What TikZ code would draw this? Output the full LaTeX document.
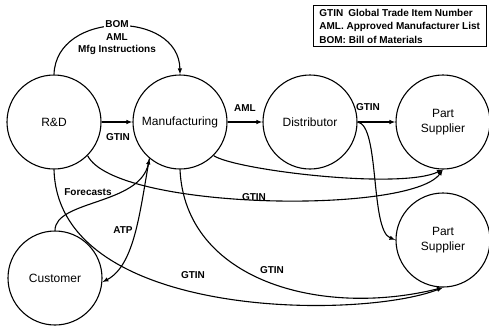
\documentclass[tikz,border=0pt]{standalone}
\usepackage{fontspec}
\setmainfont{Liberation Sans}
\usetikzlibrary{arrows.meta}
\begin{document}
\begin{tikzpicture}[x=1pt,y=-1pt,
  ent/.style={circle,draw,line width=1.1pt,minimum size=94pt,inner sep=0pt,align=center,font=\fontsize{12}{15}\selectfont},
  flow/.style={line width=1.1pt,-{Latex[length=6pt,width=4.5pt]}},
  lab/.style={font=\bfseries\fontsize{10}{12}\selectfont,inner sep=1pt}]
\useasboundingbox (0,0) rectangle (489,327);
% entities
\node[ent] (RD)  at (54,122)  {R\&D};
\node[ent] (MF)  at (180,122) {Manufacturing};
\node[ent] (DS)  at (310,122) {Distributor};
\node[ent] (PS1) at (443,122) {Part\\Supplier};
\node[ent] (PS2) at (443,240) {Part\\Supplier};
\node[ent] (CU)  at (55,278)  {Customer};
% legend
\node[draw,line width=0.8pt,anchor=north west,align=left,inner xsep=6pt,inner ysep=3.5pt,
      font=\bfseries\fontsize{10}{13.5}\selectfont] (legend) at (313,5)
  {GTIN\hspace{5pt}Global Trade Item Number\\AML. Approved Manufacturer List\\BOM: Bill of Materials};
% connectors
\draw[flow] (RD.north) .. controls (56,10) and (179,10) .. (MF.north);
\node[lab,fill=white] (lBOM) at (117,24) {BOM};
\node[lab] (lAML1) at (117,37) {AML};
\node[lab] (lMfg) at (117,50) {Mfg Instructions};
\draw[flow] (RD.east) -- (MF.west);
\node[lab] (lG0) at (118,137) {GTIN};
\draw[flow] (MF.east) -- (DS.west);
\node[lab] (lAML2) at (245,108) {AML};
\draw[flow] (DS.east) -- (PS1.west);
\node[lab] (lG1) at (368,107) {GTIN};
\draw[flow] (DS.east) .. controls (380,125) and (370,230) .. (PS2.west);
\draw[flow] (MF.-45) .. controls (235,170) and (400,190) .. (PS1.south);
\draw[flow] (RD.-45) .. controls (115,210) and (410,215) .. (PS1.south);
\node[lab] (lG2) at (254,197) {GTIN};
\draw[flow] (MF.-130) .. controls (140,210) and (135,265) .. (CU.-5);
\node[lab] (lATP) at (123,230) {ATP};
\draw[flow] (CU.north) .. controls (55,200) and (140,205) .. (MF.-130);
\node[lab] (lFc) at (88,192) {Forecasts};
\draw[flow] (RD.south) .. controls (58,320) and (360,320) .. (PS2.south);
\node[lab] (lG3) at (193,275) {GTIN};
\draw[flow] (MF.south) .. controls (185,280) and (320,318) .. (PS2.south);
\node[lab] (lG4) at (272,270) {GTIN};
\end{tikzpicture}
\end{document}
